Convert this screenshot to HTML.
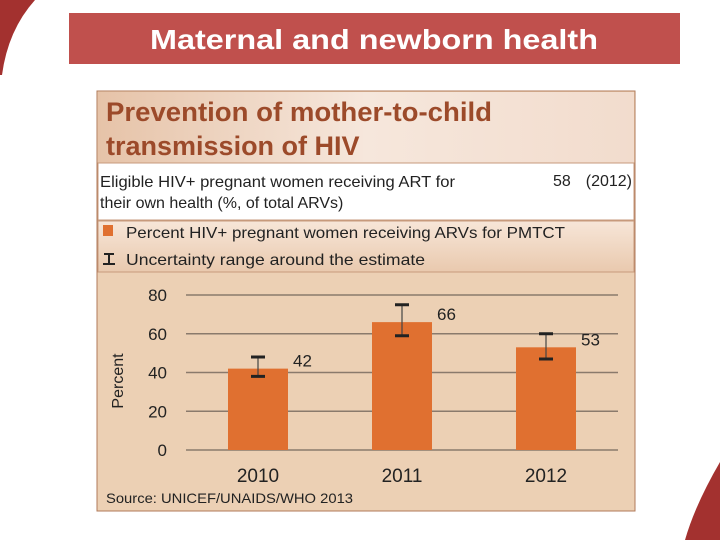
<!DOCTYPE html>
<html><head><meta charset="utf-8"><style>
html,body{margin:0;padding:0;background:#fff;}
body{width:720px;height:540px;overflow:hidden;position:relative;font-family:"Liberation Sans",sans-serif;}
</style></head><body>
<svg width="720" height="540" xmlns="http://www.w3.org/2000/svg" style="position:absolute;left:0;top:0" font-family="Liberation Sans, sans-serif">
<defs>
<linearGradient id="tg" x1="0" y1="0" x2="1" y2="0"><stop offset="0" stop-color="#e6c3a8"/><stop offset="0.5" stop-color="#f6e7dc"/><stop offset="1" stop-color="#f2dccd"/></linearGradient>
<linearGradient id="lg" x1="0" y1="0" x2="0" y2="1"><stop offset="0" stop-color="#f7e6d8"/><stop offset="1" stop-color="#e9c9ae"/></linearGradient>
</defs>
<path d="M0,0 L35,0 Q8,30 2,75 L0,75 Z" fill="#a3312f"/>
<path d="M720,462 Q695,505 685,540 L720,540 Z" fill="#a3312f"/>
<rect x="69" y="13" width="611" height="51" fill="#c0504d"/>
<text x="374" y="49" text-anchor="middle" font-size="28" font-weight="bold" fill="#fff" textLength="448" lengthAdjust="spacingAndGlyphs">Maternal and newborn health</text>
<g>
<rect x="97" y="91" width="538" height="420" fill="#ecd0b4" stroke="#b07a5a" stroke-width="1"/>
<rect x="98" y="92" width="536" height="71" fill="url(#tg)"/>
<text font-size="27" font-weight="bold" fill="#9c4a2a"><tspan x="106" y="121" textLength="386" lengthAdjust="spacingAndGlyphs">Prevention of mother-to-child</tspan><tspan x="106" y="155">transmission of HIV</tspan></text>
<rect x="98" y="163" width="536" height="57" fill="#fff" stroke="#c79a7c" stroke-width="1"/>
<text font-size="16" fill="#222"><tspan x="100" y="187" textLength="355" lengthAdjust="spacingAndGlyphs">Eligible HIV+ pregnant women receiving ART for</tspan><tspan x="100" y="208">their own health (%, of total ARVs)</tspan></text>
<text x="553" y="186" font-size="16" fill="#222">58</text>
<text x="632" y="186" text-anchor="end" font-size="16" fill="#222">(2012)</text>
<rect x="98" y="221" width="536" height="51" fill="url(#lg)" stroke="#c79a7c" stroke-width="1"/>
<rect x="103" y="225" width="10" height="11" fill="#e07030"/>
<text x="126" y="238" font-size="16" fill="#222" textLength="439" lengthAdjust="spacingAndGlyphs">Percent HIV+ pregnant women receiving ARVs for PMTCT</text>
<path d="M104,254h10M109,254v10M103,264h12" stroke="#222" stroke-width="2" fill="none"/>
<text x="126" y="265" font-size="16" fill="#222" textLength="299" lengthAdjust="spacingAndGlyphs">Uncertainty range around the estimate</text>
</g>
<g id="chart"></g>
<text transform="translate(123,381) rotate(-90)" text-anchor="middle" font-size="16" fill="#222">Percent</text>
<text x="106" y="503" font-size="14" fill="#222" textLength="247" lengthAdjust="spacingAndGlyphs">Source: UNICEF/UNAIDS/WHO 2013</text>
</svg>
<script>
const categories=["2010","2011","2012"];
const values=[42,66,53];
const lows=[38,59,47];
const highs=[48,75,60];
const yTicks=[0,20,40,60,80];
const NS="http://www.w3.org/2000/svg";
const g=document.getElementById('chart');
const x0=186,x1=618,yTop=295,yBot=450,ymax=80;
const y=v=>yBot-(v/ymax)*(yBot-yTop);
const band=(x1-x0)/categories.length;
const xc=i=>x0+band*(i+0.5);
const bw=60;
function mk(t,a){const e=document.createElementNS(NS,t);for(const k in a)e.setAttribute(k,a[k]);g.appendChild(e);return e;}
yTicks.forEach(t=>{
 const l=mk('line',{x1:x0,x2:x1,y1:y(t),y2:y(t),stroke:'#8a7a6c','stroke-width':1.5});
 
 
 const tx=mk('text',{x:167,y:y(t)+6,'text-anchor':'end','font-size':17,fill:'#222'});
 tx.textContent=t;
 
 
});
categories.forEach((c,i)=>{
 const cx=xc(i);
 const r=mk('rect',{x:cx-bw/2,y:y(values[i]),width:bw,height:yBot-y(values[i]),fill:'#e07030'});
 
 
 const eb=mk('path',{d:`M${cx},${y(highs[i])}V${y(lows[i])}`,stroke:'#444','stroke-width':1.2,fill:'none'});
 
 
 const cap=mk('path',{d:`M${cx-7},${y(highs[i])}h14M${cx-7},${y(lows[i])}h14`,stroke:'#222','stroke-width':3,fill:'none'});
 
 
 const vl=mk('text',{x:cx+bw/2+5,y:y(values[i])-2,'font-size':17,fill:'#222'});
 vl.textContent=values[i];
 
 
 const xl=mk('text',{x:cx,y:482,'text-anchor':'middle','font-size':19,fill:'#222'});
 xl.textContent=c;
 
 
});
</script>
</body></html>
